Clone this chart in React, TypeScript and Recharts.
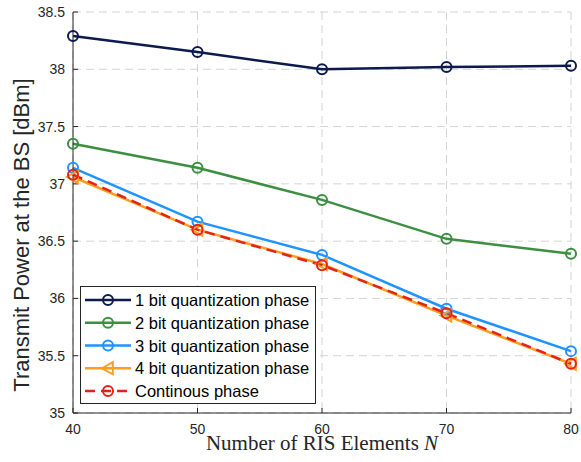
import { CartesianGrid, Legend, Line, LineChart, XAxis, YAxis } from 'recharts';

const nValues = [40, 50, 60, 70, 80];
const oneBit = [38.29, 38.15, 38.0, 38.02, 38.03];
const twoBit = [37.35, 37.14, 36.86, 36.52, 36.39];
const threeBit = [37.14, 36.67, 36.38, 35.91, 35.54];
const fourBit = [37.06, 36.6, 36.3, 35.85, 35.43];
const continuous = [37.08, 36.6, 36.29, 35.87, 35.43];

const xTicks = [40, 50, 60, 70, 80];
const yTicks = [35, 35.5, 36, 36.5, 37, 37.5, 38, 38.5];

const data = nValues.map((n, i) => ({
  n,
  b1: oneBit[i],
  b2: twoBit[i],
  b3: threeBit[i],
  b4: fourBit[i],
  cont: continuous[i],
}));

const SANS = '"Liberation Sans", Arial, Helvetica, sans-serif';
const INK = '#262626';

const series = [
  { key: 'b1', name: '1 bit quantization phase', color: '#0c1a4d', marker: 'circle', dashed: false },
  { key: 'b2', name: '2 bit quantization phase', color: '#3c8f40', marker: 'circle', dashed: false },
  { key: 'b3', name: '3 bit quantization phase', color: '#1f93ff', marker: 'circle', dashed: false },
  { key: 'b4', name: '4 bit quantization phase', color: '#ff9d1e', marker: 'triangle', dashed: false },
  { key: 'cont', name: 'Continous phase', color: '#e3231a', marker: 'circle', dashed: true },
];

function Marker({ cx, cy, color, kind }: { cx: number; cy: number; color: string; kind: string }) {
  if (kind === 'triangle') {
    const s = 6;
    return (
      <polygon
        points={`${cx - s},${cy} ${cx + s * 0.8},${cy - s} ${cx + s * 0.8},${cy + s}`}
        fill="none"
        stroke={color}
        strokeWidth={2}
      />
    );
  }
  return <circle cx={cx} cy={cy} r={5} fill="none" stroke={color} strokeWidth={2} />;
}

function makeDot(color: string, kind: string) {
  return (props: any) => {
    if (props.cx == null || props.cy == null) return <g key={props.index} />;
    return <Marker key={props.index} cx={props.cx} cy={props.cy} color={color} kind={kind} />;
  };
}

function LegendBox() {
  return (
    <div
      style={{
        width: 234,
        height: 116,
        border: `1px solid ${INK}`,
        background: '#fff',
        fontFamily: SANS,
        fontSize: 16.5,
        color: '#000',
      }}
    >
      <svg width={234} height={116} style={{ display: 'block' }}>
        {series.map((s, i) => {
          const y = 13 + i * 22.75;
          return (
            <g key={s.key}>
              <line
                x1={4}
                x2={50}
                y1={y}
                y2={y}
                stroke={s.color}
                strokeWidth={2.5}
                strokeDasharray={s.dashed ? '10 6' : undefined}
              />
              <Marker cx={27} cy={y} color={s.color} kind={s.marker} />
              <text x={54} y={y + 6}>
                {s.name}
              </text>
            </g>
          );
        })}
      </svg>
    </div>
  );
}

export default function App() {
  return (
    <div style={{ position: 'absolute', left: 0, top: 0, background: '#fff' }}>
      <LineChart width={581} height={462} data={data} margin={{ top: 12, right: 10, left: 0, bottom: 0 }}>
        <CartesianGrid stroke="#d4d4d4" strokeDasharray="8 5" strokeWidth={1} />
        <XAxis
          dataKey="n"
          type="number"
          domain={[40, 80]}
          ticks={xTicks}
          height={49}
          tickSize={-5}
          tickMargin={16}
          stroke={INK}
          tick={{ fill: INK, fontSize: 14, fontFamily: SANS }}
          label={{
            content: () => (
              <text
                x={322}
                y={450}
                textAnchor="middle"
                fill={INK}
                fontSize={21}
                fontFamily='"Liberation Serif", "Times New Roman", serif'
              >
                Number of RIS Elements <tspan fontStyle="italic">N</tspan>
              </text>
            ),
          }}
        />
        <XAxis
          xAxisId="top"
          orientation="top"
          dataKey="n"
          type="number"
          domain={[40, 80]}
          ticks={xTicks}
          height={0}
          tickSize={-5}
          stroke={INK}
          tickFormatter={() => ''}
        />
        <YAxis
          type="number"
          domain={[35, 38.5]}
          ticks={yTicks}
          width={73}
          tickSize={-5}
          tickMargin={13}
          stroke={INK}
          tick={{ fill: INK, fontSize: 14, fontFamily: SANS }}
          label={{
            content: () => (
              <text
                x={29}
                y={235}
                transform="rotate(-90 29 235)"
                textAnchor="middle"
                fill={INK}
                fontSize={22}
                fontFamily={SANS}
              >
                Transmit Power at the BS [dBm]
              </text>
            ),
          }}
        />
        <YAxis
          yAxisId="r"
          orientation="right"
          type="number"
          domain={[35, 38.5]}
          ticks={yTicks}
          width={0}
          tickSize={-5}
          stroke={INK}
          tickFormatter={() => ''}
        />
        {series.map((s) => (
          <Line
            key={s.key}
            dataKey={s.key}
            name={s.name}
            type="linear"
            stroke={s.color}
            strokeWidth={2.5}
            strokeDasharray={s.dashed ? '10 6' : undefined}
            dot={makeDot(s.color, s.marker)}
            activeDot={false}
            isAnimationActive={false}
          />
        ))}
        <Legend
          layout="vertical"
          align="center"
          verticalAlign="middle"
          content={() => <LegendBox />}
          wrapperStyle={{ position: 'absolute', left: 80, top: 286, width: 236, height: 118 }}
        />
      </LineChart>
    </div>
  );
}
